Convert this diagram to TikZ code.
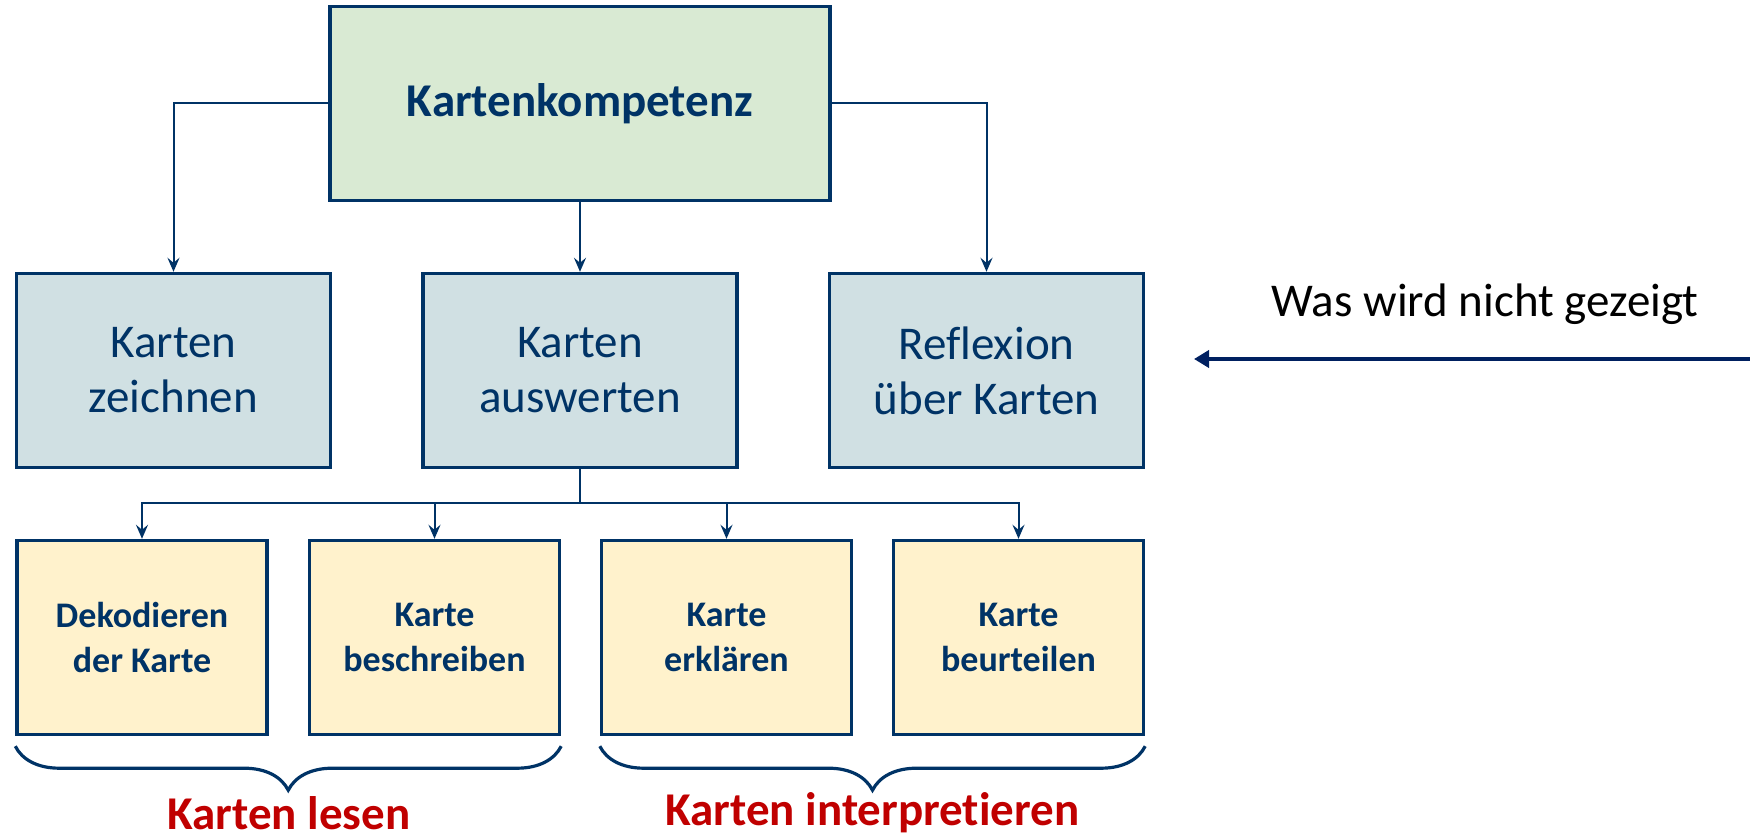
\documentclass[tikz,border=0pt]{standalone}
\usepackage{fontspec}
\setmainfont{Carlito}[Ligatures=NoCommon]
\usetikzlibrary{arrows.meta,decorations.pathreplacing}
\definecolor{navy}{HTML}{003366}
\definecolor{arrownavy}{HTML}{002060}
\definecolor{kgreen}{HTML}{D9EAD3}
\definecolor{kblue}{HTML}{D0E0E3}
\definecolor{kyellow}{HTML}{FFF2CC}
\definecolor{kred}{HTML}{C00000}

\begin{document}
\begin{tikzpicture}[x=0.5pt,y=-0.5pt]
\tikzstyle{every node}=[inner sep=0pt, rectangle, align=center, text=navy]
\tikzstyle{kbox}=[draw=navy, line width=1.7pt, minimum height=97pt]
\tikzstyle{kline}=[draw=navy, line width=1pt, -{Stealth[length=7pt,width=6pt,inset=2.5pt]}]
\tikzstyle{kbrace}=[draw=navy, line width=1.6pt, decorate, decoration={brace,mirror,amplitude=22pt}]
\useasboundingbox (0,0) rectangle (1750,839);
% oberste Ebene
\draw (580,103.5) node (komp) [kbox, fill=kgreen, minimum width=250pt, font=\bfseries\fontsize{23.5}{28}\selectfont] {Kartenkompetenz};
% zweite Ebene
\draw (173.5,370.5) node (zei) [kbox, fill=kblue, minimum width=157pt, font=\fontsize{23.5}{27.5}\selectfont] {Karten\\zeichnen};
\draw (580,370.5) node (aus) [kbox, fill=kblue, minimum width=157pt, font=\fontsize{23.5}{27.5}\selectfont] {Karten\\auswerten};
\draw (986.5,370.5) node (ref) [kbox, fill=kblue, minimum width=157pt, font=\fontsize{23.5}{27.5}\selectfont] {Reflexion\\über Karten};
% dritte Ebene
\draw (142,637.5) node (dek) [kbox, fill=kyellow, minimum width=125pt, font=\bfseries\fontsize{18}{22.5}\selectfont] {Dekodieren\\der Karte};
\draw (434.5,637.5) node (bes) [kbox, fill=kyellow, minimum width=125pt, font=\bfseries\fontsize{18}{22.5}\selectfont] {Karte\\beschreiben};
\draw (726.5,637.5) node (erk) [kbox, fill=kyellow, minimum width=125pt, font=\bfseries\fontsize{18}{22.5}\selectfont] {Karte\\erklären};
\draw (1018.5,637.5) node (beu) [kbox, fill=kyellow, minimum width=125pt, font=\bfseries\fontsize{18}{22.5}\selectfont] {Karte\\beurteilen};
% Verbindungen
\draw[kline] (komp.west) -| (zei.north);
\draw[kline] (komp.south) -- (aus.north);
\draw[kline] (komp.east) -| (ref.north);
\coordinate (fork) at (580,503);
\draw[navy, line width=1pt] (aus.south) -- (fork);
\foreach \n in {dek,bes,erk,beu}
  \draw[kline] (fork) -| (\n.north);
% Klammern
\draw[kbrace] ([yshift=-5pt]dek.south west) -- ([yshift=-5pt]bes.south east);
\draw[kbrace] ([yshift=-5pt]erk.south west) -- ([yshift=-5pt]beu.south east);
\draw (289,813) node (lesen) [text=kred, font=\bfseries\fontsize{23.5}{28}\selectfont] {Karten lesen};
\draw (872.5,813) node (interp) [text=kred, font=\bfseries\fontsize{23.5}{28}\selectfont] {Karten interpretieren};
% rechte Seite
\draw (1485,317) node (nicht) [anchor=base, text=black, font=\fontsize{23.5}{28}\selectfont] {Was wird nicht gezeigt};
\coordinate (pfeilstart) at (1750,359);
\coordinate (pfeilende) at (1194,359);
\draw[arrownavy, line width=2.2pt, -{Triangle[length=7.5pt,width=8.5pt]}] (pfeilstart) -- (pfeilende);
\end{tikzpicture}
\end{document}
